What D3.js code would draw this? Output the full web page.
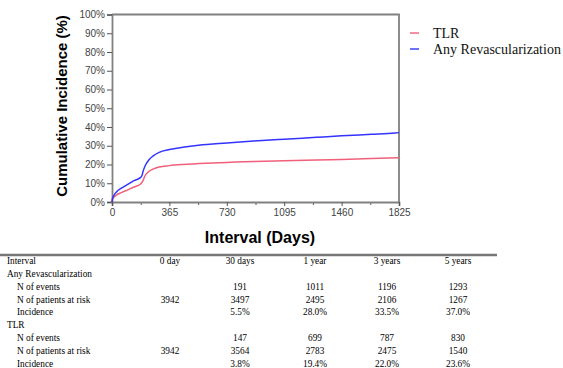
<!DOCTYPE html>
<html>
<head>
<meta charset="utf-8">
<script src="https://cdn.jsdelivr.net/npm/d3@7"></script>
<style>
  body { margin: 0; background: #fff; }
  svg { display: block; }
</style>
</head>
<body>
<div id="plot"></div>
<script>
// curve points (day, cumulative %)
const revascDays = [0, 3, 10, 30, 60, 100, 140, 180, 190, 200, 215, 235, 260, 300, 365, 450, 550, 730, 900, 1095, 1300, 1460, 1650, 1800, 1825];
const revascPct  = [0, 1.8, 3.2, 5.5, 7.4, 9.4, 11.4, 13, 14, 17, 20, 22.5, 24.5, 26.5, 28, 29.2, 30.3, 31.5, 32.5, 33.5, 34.5, 35.3, 36.1, 36.8, 37];
const tlrDays = [0, 3, 10, 30, 60, 100, 140, 180, 195, 210, 230, 260, 300, 365, 450, 600, 730, 900, 1095, 1300, 1460, 1650, 1825];
const tlrPct  = [0, 1.2, 2.3, 3.8, 5, 6.5, 8, 9.5, 11, 14, 16, 17.5, 18.7, 19.4, 20, 20.7, 21.1, 21.6, 22, 22.4, 22.7, 23.2, 23.6];

const xTicks = [0, 365, 730, 1095, 1460, 1825];
const yTicks = [0, 10, 20, 30, 40, 50, 60, 70, 80, 90, 100];

const seriesNames  = ["TLR", "Any Revascularization"];
const seriesColors = ["#f0607a", "#3333ff"];

// risk table
const tableHeader = ["Interval", "0 day", "30 days", "1 year", "3 years", "5 years"];
const tableRows = [
  { label: "Any Revascularization", indent: false, values: ["", "", "", "", ""] },
  { label: "N of events", indent: true, values: ["", "191", "1011", "1196", "1293"] },
  { label: "N of patients at risk", indent: true, values: ["3942", "3497", "2495", "2106", "1267"] },
  { label: "Incidence", indent: true, values: ["", "5.5%", "28.0%", "33.5%", "37.0%"] },
  { label: "TLR", indent: false, values: ["", "", "", "", ""] },
  { label: "N of events", indent: true, values: ["", "147", "699", "787", "830"] },
  { label: "N of patients at risk", indent: true, values: ["3942", "3564", "2783", "2475", "1540"] },
  { label: "Incidence", indent: true, values: ["", "3.8%", "19.4%", "22.0%", "23.6%"] }
];

const W = 563, H = 368;
const svg = d3.select("#plot").append("svg")
  .attr("width", W).attr("height", H);

const x = d3.scaleLinear().domain([0, 1825]).range([112, 399]);
const y = d3.scaleLinear().domain([0, 100]).range([202, 14.5]);

const axisColor = "#808080";

// frame (top + right)
svg.append("path")
  .attr("d", `M${x(0)},${y(100)}H${x(1825)}V${y(0)}`)
  .attr("fill", "none").attr("stroke", axisColor).attr("stroke-width", 1.8);

// y axis
const yAxis = svg.append("g")
  .attr("transform", `translate(${x(0)},0)`)
  .call(d3.axisLeft(y).tickValues(yTicks).tickFormat(d => d + "%").tickSize(5).tickPadding(2));
yAxis.select(".domain").attr("stroke", axisColor).attr("stroke-width", 1.8);
yAxis.selectAll(".tick line").attr("stroke", "#555");
yAxis.selectAll("text").attr("font-family", "Liberation Sans, Arial, sans-serif")
  .attr("font-size", 10).attr("fill", "#444");

// x axis, with minor ticks halfway
const minor = xTicks.slice(0, -1).map(d => d + 182.5);
svg.append("g")
  .attr("transform", `translate(0,${y(0)})`)
  .call(d3.axisBottom(x).tickValues(minor).tickFormat("").tickSize(3))
  .call(g => g.select(".domain").remove())
  .selectAll(".tick line").attr("stroke", "#555");
const xAxis = svg.append("g")
  .attr("transform", `translate(0,${y(0)})`)
  .call(d3.axisBottom(x).tickValues(xTicks).tickFormat(d3.format("d")).tickSize(4).tickPadding(3));
xAxis.select(".domain").attr("stroke", axisColor).attr("stroke-width", 1.8);
xAxis.selectAll(".tick line").attr("stroke", "#555");
xAxis.selectAll("text").attr("font-family", "Liberation Sans, Arial, sans-serif")
  .attr("font-size", 10).attr("fill", "#444");

// curves
const line = d3.line()
  .x(d => x(d[0]))
  .y(d => y(d[1]))
  .curve(d3.curveMonotoneX);

const series = [
  d3.zip(tlrDays, tlrPct),
  d3.zip(revascDays, revascPct)
];
svg.selectAll(".curve")
  .data(series)
  .enter().append("path")
  .attr("class", "curve")
  .attr("d", line)
  .attr("fill", "none")
  .attr("stroke", (d, i) => seriesColors[i])
  .attr("stroke-width", 1.5);

// axis titles
svg.append("text")
  .attr("transform", `translate(67,106) rotate(-90)`)
  .attr("text-anchor", "middle")
  .attr("font-family", "Liberation Sans, Arial, sans-serif")
  .attr("font-weight", "bold").attr("font-size", 15)
  .text("Cumulative Incidence (%)");

svg.append("text")
  .attr("x", 260).attr("y", 243)
  .attr("text-anchor", "middle")
  .attr("font-family", "Liberation Sans, Arial, sans-serif")
  .attr("font-weight", "bold").attr("font-size", 16)
  .text("Interval (Days)");

// legend
const legend = svg.selectAll(".legend")
  .data(seriesNames)
  .enter().append("g")
  .attr("class", "legend")
  .attr("transform", (d, i) => `translate(410,${33 + i * 16})`);
legend.append("line")
  .attr("x1", 0).attr("x2", 9)
  .attr("stroke", (d, i) => seriesColors[i]).attr("stroke-width", 1.4);
legend.append("text")
  .attr("x", 23).attr("dy", "0.35em")
  .attr("font-family", "Liberation Serif, Times New Roman, serif")
  .attr("font-size", 14).attr("fill", "#111")
  .text(d => d);

// table
const colX = [170, 240, 315, 387, 458];
const rowY0 = 261, rowStep = 12.8;
const tbl = svg.append("g")
  .attr("font-family", "Liberation Serif, Times New Roman, serif")
  .attr("font-size", 9.3).attr("fill", "#000");

tbl.append("line")
  .attr("x1", 0).attr("x2", 497)
  .attr("y1", 255).attr("y2", 255)
  .attr("stroke", "#777").attr("stroke-width", 2.5);

tbl.append("text")
  .attr("x", 7).attr("y", rowY0).attr("dy", "0.35em")
  .text(tableHeader[0]);
tbl.selectAll(".hdr")
  .data(tableHeader.slice(1))
  .enter().append("text")
  .attr("class", "hdr")
  .attr("x", (d, i) => colX[i]).attr("y", rowY0).attr("dy", "0.35em")
  .attr("text-anchor", "middle")
  .text(d => d);

const rows = tbl.selectAll(".row")
  .data(tableRows)
  .enter().append("g")
  .attr("class", "row")
  .attr("transform", (d, i) => `translate(0,${rowY0 + (i + 1) * rowStep})`);
rows.append("text")
  .attr("x", d => d.indent ? 17 : 7).attr("dy", "0.35em")
  .text(d => d.label);
rows.selectAll(".cell")
  .data(d => d.values)
  .enter().append("text")
  .attr("class", "cell")
  .attr("x", (d, i) => colX[i]).attr("dy", "0.35em")
  .attr("text-anchor", "middle")
  .text(d => d);
</script>
</body>
</html>
